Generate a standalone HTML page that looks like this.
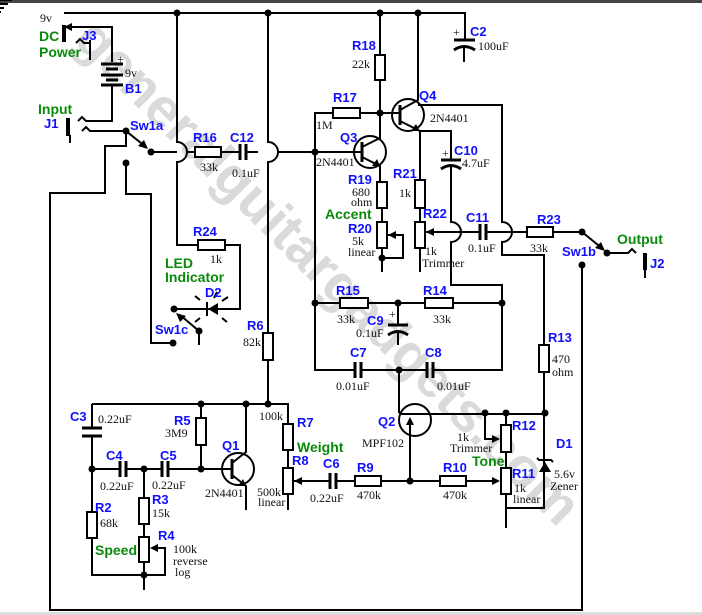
<!DOCTYPE html>
<html><head><meta charset="utf-8"><style>
html,body{margin:0;padding:0;background:#fff;}
svg{display:block;}
.b{font-family:"Liberation Sans",sans-serif;font-weight:bold;font-size:13px;fill:#1010ff;}
.g{font-family:"Liberation Sans",sans-serif;font-weight:bold;font-size:14px;fill:#0a8a0a;}
.v{font-family:"Liberation Serif",serif;font-size:12px;fill:#111;}
</style></head><body>
<svg width="702" height="615" viewBox="0 0 702 615" xmlns="http://www.w3.org/2000/svg">
<rect x="0" y="0" width="702" height="3" fill="#444"/>
<rect x="0" y="612" width="702" height="3" fill="#ddd"/>
<text x="0" y="0" transform="translate(72,42) rotate(45)" font-family="Liberation Sans,sans-serif" font-weight="bold" font-size="55" fill="#dadada">generalguitargadgets.com</text>
<g fill="none" stroke="#000" stroke-width="2">
<path d="M64 13 H465 V40"/>
<path d="M464 48 V62"/>
<path d="M64 27 H112 V62"/>
<path d="M90 40 V60"/>
<path d="M76 43 l4 -4 l4 4 H90"/>
<path d="M112 84 V121 H86 l-4 -4 l-4 4"/>
<path d="M126 131 H90 l-4 -4 l-4 4"/>
<path d="M70 135 V143"/>
<path d="M126 131 L146 147"/>
<path d="M151 152 H177"/>
<path d="M177 13 V142 a10 10 0 0 1 0 20 V245 H198"/>
<path d="M187 152 H195 M221 152 H240 M246 152 H258"/>
<path d="M268 13 V142 a10 10 0 0 1 0 20 V333 M268 360 V404"/>
<path d="M278 152 H362"/>
<path d="M582 265 V610 H50 V193 H105 V146 H126 V131"/>
<path d="M126 163 V194 H151 V343 H173"/>
<path d="M199 331 L180 315"/>
<path d="M199 331 V345"/>
<path d="M174 309 H240 V245 H225"/>
<path d="M315 152 V113 H333 M360 113 H400"/>
<path d="M380 13 V55 M380 80 V140"/>
<path d="M362 147 L380 138"/>
<path d="M362 157 L380 166 V182 M382 208 V222 M382 248 V272"/>
<path d="M387 235 H403 V258 H382"/>
<path d="M400 110 L418 100 V13"/>
<path d="M400 121 L420 131 V180 M420 208 V222 M420 248 V272"/>
<path d="M420 131 H451 V160"/>
<path d="M451 167 V222 a10 10 0 0 1 0 20 V285 H502 V370 H433"/>
<path d="M418 105 H502 V222 a10 10 0 0 1 0 20 V255 H544 V345 M544 372 V508 H506"/>
<path d="M426 232 H461 M461 232 H480 M486 232 H512 M512 232 H527 M553 232 H582"/>
<path d="M582 232 L603 249"/>
<path d="M607 253 H628 l4 -4 l4 4"/>
<path d="M645 270 V278"/>
<path d="M315 152 V370 H355 M361 370 H427"/>
<path d="M315 303 H340 M368 303 H425 M453 303 H502"/>
<path d="M398 303 V325 M398 333 V345"/>
<path d="M399 370 V413 M399 414 H545"/>
<path d="M410 481 V425"/>
<path d="M485 413 V439 H498"/>
<path d="M506 413 V425 M506 452 V468 M506 494 V528"/>
<path d="M294 481 H330 M336 481 H355 M381 481 H440 M466 481 H498"/>
<path d="M92 404 H288 V424 M288 450 V468 M288 494 V510"/>
<path d="M92 404 V428 M92 436 V512 M92 538 V575 H165 V548 H152"/>
<path d="M92 469 H120 M126 469 H162 M168 469 H232"/>
<path d="M144 469 V498 M144 524 V537 M144 562 V590"/>
<path d="M201 404 V418 M201 445 V469"/>
<path d="M232 463 L246 452 V404"/>
<path d="M232 475 L246 486 V510"/>
</g>
<g fill="#fff" stroke="#000" stroke-width="2">
<rect x="195" y="147" width="26" height="10"/>
<rect x="198" y="240" width="27" height="10"/>
<rect x="263" y="333" width="10" height="27"/>
<rect x="333" y="108" width="27" height="10"/>
<rect x="375" y="55" width="10" height="25"/>
<rect x="377" y="182" width="10" height="26"/>
<rect x="377" y="222" width="10" height="26"/>
<rect x="415" y="180" width="10" height="28"/>
<rect x="415" y="222" width="10" height="26"/>
<rect x="527" y="227" width="26" height="10"/>
<rect x="539" y="345" width="10" height="27"/>
<rect x="340" y="298" width="28" height="10"/>
<rect x="425" y="298" width="28" height="10"/>
<rect x="501" y="425" width="10" height="27"/>
<rect x="501" y="468" width="10" height="26"/>
<rect x="355" y="476" width="26" height="10"/>
<rect x="440" y="476" width="26" height="10"/>
<rect x="283" y="424" width="10" height="26"/>
<rect x="283" y="468" width="10" height="26"/>
<rect x="196" y="418" width="10" height="27"/>
<rect x="87" y="512" width="10" height="26"/>
<rect x="139" y="498" width="10" height="26"/>
<rect x="139" y="537" width="10" height="25"/>
</g>
<g fill="none" stroke="#000" stroke-width="2">
<circle cx="370" cy="152" r="16"/>
<circle cx="408" cy="115" r="16"/>
<circle cx="238" cy="469" r="16"/>
<circle cx="415" cy="420" r="16"/>
</g>
<g stroke="#000" stroke-width="3">
<line x1="362" y1="142" x2="362" y2="162"/>
<line x1="400" y1="105" x2="400" y2="125"/>
<line x1="232" y1="459" x2="232" y2="479"/>
<line x1="240" y1="144" x2="240" y2="160"/><line x1="246" y1="144" x2="246" y2="160"/>
<line x1="480" y1="224" x2="480" y2="240"/><line x1="486" y1="224" x2="486" y2="240"/>
<line x1="355" y1="362" x2="355" y2="378"/><line x1="361" y1="362" x2="361" y2="378"/>
<line x1="427" y1="362" x2="427" y2="378"/><line x1="433" y1="362" x2="433" y2="378"/>
<line x1="330" y1="473" x2="330" y2="489"/><line x1="336" y1="473" x2="336" y2="489"/>
<line x1="120" y1="461" x2="120" y2="477"/><line x1="126" y1="461" x2="126" y2="477"/>
<line x1="162" y1="461" x2="162" y2="477"/><line x1="168" y1="461" x2="168" y2="477"/>
<line x1="82" y1="428" x2="102" y2="428"/><line x1="82" y1="436" x2="102" y2="436"/>
<line x1="454" y1="40" x2="475" y2="40"/>
<line x1="441" y1="160" x2="461" y2="160"/>
<line x1="388" y1="325" x2="408" y2="325"/>
<line x1="64" y1="25" x2="64" y2="42" stroke-width="4"/>
<line x1="68" y1="118" x2="68" y2="136" stroke-width="4"/>
<line x1="645" y1="253" x2="645" y2="270" stroke-width="4"/>
<line x1="101" y1="64" x2="123" y2="64"/><line x1="106" y1="69" x2="118" y2="69"/>
<line x1="101" y1="75" x2="123" y2="75"/><line x1="106" y1="80" x2="118" y2="80"/>
<line x1="101" y1="85" x2="123" y2="85"/>
</g>
<g fill="none" stroke="#000" stroke-width="3">
<path d="M454 50 Q464 43 475 50"/>
<path d="M441 169 Q451 162 461 169"/>
<path d="M388 335 Q398 328 408 335"/>
</g>
<g fill="#000">
<polygon points="64,27 72,23 72,31"/>
<polygon points="380,166 372,166 377,159"/>
<polygon points="420,131 411,131 416,124"/>
<polygon points="246,486 238,486 243,479"/>
<polygon points="388,235 396,231 396,239"/>
<polygon points="426,232 434,228 434,236"/>
<polygon points="294,481 302,477 302,485"/>
<polygon points="500,481 492,477 492,485"/>
<polygon points="500,439 492,435 492,443"/>
<polygon points="150,548 158,544 158,552"/>
<polygon points="410,417 406,425 414,425"/>
<polygon points="148,149 138,146 144,140"/>
<polygon points="605,251 595,248 601,242"/>
<polygon points="176,313 186,316 180,322"/>
<polygon points="545,462 539,472 551,472"/>
<polygon points="208,309 218,303 218,315"/>
</g>
<g stroke="#000" stroke-width="2" fill="none">
<path d="M537 458 l2 2 H551 l2 2"/>
<line x1="207" y1="302" x2="207" y2="316"/>
<path d="M200 300 l-5 -4 M214 298 l3 -6 M222 301 l6 -4 M200 318 l-5 4 M222 318 l5 4"/>
</g>
<g stroke="#000" stroke-width="2">
<g id="gnd"><line x1="-12" y1="0" x2="12" y2="0"/><line x1="-8" y1="4" x2="8" y2="4"/><line x1="-4" y1="8" x2="4" y2="8"/><line x1="-1" y1="12" x2="1" y2="12"/></g>
</g>
<use href="#gnd" x="90" y="60"/><use href="#gnd" x="70" y="143"/><use href="#gnd" x="464" y="62"/>
<use href="#gnd" x="382" y="272"/><use href="#gnd" x="420" y="272"/><use href="#gnd" x="645" y="278"/>
<use href="#gnd" x="199" y="345"/><use href="#gnd" x="398" y="345"/><use href="#gnd" x="506" y="528"/>
<use href="#gnd" x="288" y="510"/><use href="#gnd" x="246" y="510"/><use href="#gnd" x="144" y="590"/>
<g fill="#000">
<circle cx="177" cy="13" r="3.5"/><circle cx="268" cy="13" r="3.5"/><circle cx="380" cy="13" r="3.5"/><circle cx="418" cy="13" r="3.5"/>
<circle cx="126" cy="131" r="3.5"/><circle cx="151" cy="152" r="3.5"/><circle cx="126" cy="163" r="3.5"/>
<circle cx="315" cy="152" r="3.5"/><circle cx="380" cy="113" r="3.5"/><circle cx="382" cy="258" r="3.5"/>
<circle cx="582" cy="232" r="3.5"/><circle cx="607" cy="253" r="3.5"/><circle cx="582" cy="265" r="3.5"/>
<circle cx="174" cy="309" r="3.5"/><circle cx="199" cy="331" r="3.5"/><circle cx="173" cy="343" r="3.5"/>
<circle cx="315" cy="303" r="3.5"/><circle cx="398" cy="303" r="3.5"/><circle cx="502" cy="303" r="3.5"/>
<circle cx="399" cy="370" r="3.5"/><circle cx="485" cy="413" r="3.5"/><circle cx="506" cy="413" r="3.5"/><circle cx="545" cy="413" r="3.5"/>
<circle cx="410" cy="481" r="3.5"/>
<circle cx="201" cy="404" r="3.5"/><circle cx="246" cy="404" r="3.5"/><circle cx="268" cy="404" r="3.5"/>
<circle cx="92" cy="469" r="3.5"/><circle cx="144" cy="469" r="3.5"/><circle cx="201" cy="469" r="3.5"/><circle cx="144" cy="575" r="3.5"/>
</g>
<text class="v" x="40" y="22">9v</text>
<text class="g" x="39" y="41">DC</text><text class="g" x="39" y="57">Power</text>
<text class="b" x="82" y="40">J3</text>
<text class="v" x="117" y="63">+</text><text class="v" x="125" y="77">9v</text><text class="b" x="125" y="93">B1</text>
<text class="g" x="38" y="114">Input</text><text class="b" x="44" y="128">J1</text>
<text class="b" x="130" y="130">Sw1a</text>
<text class="b" x="193" y="142">R16</text><text class="b" x="230" y="142">C12</text>
<text class="v" x="200" y="171">33k</text><text class="v" x="232" y="177">0.1uF</text>
<text class="b" x="333" y="102">R17</text><text class="v" x="316" y="129">1M</text>
<text class="b" x="340" y="142">Q3</text><text class="v" x="316" y="166">2N4401</text>
<text class="b" x="352" y="50">R18</text><text class="v" x="352" y="68">22k</text>
<text class="b" x="419" y="100">Q4</text><text class="v" x="430" y="122">2N4401</text>
<text class="v" x="453" y="36">+</text><text class="b" x="470" y="36">C2</text><text class="v" x="478" y="50">100uF</text>
<text class="v" x="442" y="157">+</text><text class="b" x="454" y="155">C10</text><text class="v" x="462" y="167">4.7uF</text>
<text class="b" x="393" y="178">R21</text><text class="v" x="399" y="197">1k</text>
<text class="b" x="348" y="184">R19</text><text class="v" x="352" y="196">680</text><text class="v" x="351" y="206">ohm</text>
<text class="g" x="325" y="219">Accent</text>
<text class="b" x="348" y="233">R20</text><text class="v" x="352" y="245">5k</text><text class="v" x="348" y="256">linear</text>
<text class="b" x="423" y="218">R22</text><text class="v" x="425" y="255">1k</text><text class="v" x="422" y="267">Trimmer</text>
<text class="b" x="466" y="222">C11</text><text class="v" x="468" y="252">0.1uF</text>
<text class="b" x="537" y="224">R23</text><text class="v" x="530" y="252">33k</text>
<text class="g" x="617" y="244">Output</text><text class="b" x="650" y="268">J2</text>
<text class="b" x="562" y="256">Sw1b</text>
<text class="b" x="193" y="236">R24</text><text class="v" x="210" y="263">1k</text>
<text class="g" x="165" y="268">LED</text><text class="g" x="165" y="282">Indicator</text>
<text class="b" x="205" y="297">D2</text><text class="b" x="155" y="334">Sw1c</text>
<text class="b" x="247" y="330">R6</text><text class="v" x="243" y="346">82k</text>
<text class="b" x="336" y="295">R15</text><text class="v" x="337" y="323">33k</text>
<text class="v" x="389" y="318">+</text><text class="b" x="367" y="325">C9</text><text class="v" x="356" y="337">0.1uF</text>
<text class="b" x="423" y="295">R14</text><text class="v" x="433" y="323">33k</text>
<text class="b" x="350" y="357">C7</text><text class="v" x="336" y="390">0.01uF</text>
<text class="b" x="425" y="357">C8</text><text class="v" x="437" y="390">0.01uF</text>
<text class="b" x="548" y="342">R13</text><text class="v" x="552" y="363">470</text><text class="v" x="552" y="376">ohm</text>
<text class="b" x="378" y="426">Q2</text><text class="v" x="362" y="447">MPF102</text>
<text class="b" x="512" y="430">R12</text><text class="v" x="457" y="441">1k</text><text class="v" x="450" y="452">Trimmer</text>
<text class="g" x="472" y="466">Tone</text>
<text class="b" x="512" y="478">R11</text><text class="v" x="514" y="492">1k</text><text class="v" x="513" y="503">linear</text>
<text class="b" x="556" y="448">D1</text><text class="v" x="554" y="478">5.6v</text><text class="v" x="550" y="490">Zener</text>
<text class="b" x="357" y="472">R9</text><text class="v" x="357" y="499">470k</text>
<text class="b" x="443" y="472">R10</text><text class="v" x="443" y="499">470k</text>
<text class="b" x="323" y="468">C6</text><text class="v" x="310" y="502">0.22uF</text>
<text class="b" x="297" y="427">R7</text><text class="g" x="297" y="452">Weight</text>
<text class="b" x="292" y="465">R8</text><text class="v" x="257" y="496">500k</text><text class="v" x="258" y="506">linear</text>
<text class="v" x="259" y="420">100k</text>
<text class="b" x="70" y="421">C3</text><text class="v" x="98" y="423">0.22uF</text>
<text class="b" x="174" y="425">R5</text><text class="v" x="165" y="437">3M9</text>
<text class="b" x="222" y="450">Q1</text><text class="v" x="205" y="497">2N4401</text>
<text class="b" x="106" y="460">C4</text><text class="v" x="100" y="490">0.22uF</text>
<text class="b" x="160" y="460">C5</text><text class="v" x="152" y="489">0.22uF</text>
<text class="b" x="95" y="512">R2</text><text class="v" x="100" y="527">68k</text>
<text class="b" x="152" y="504">R3</text><text class="v" x="152" y="517">15k</text>
<text class="b" x="158" y="540">R4</text>
<text class="g" x="95" y="555">Speed</text>
<text class="v" x="173" y="553">100k</text><text class="v" x="173" y="565">reverse</text><text class="v" x="175" y="576">log</text>
</svg>
</body></html>
